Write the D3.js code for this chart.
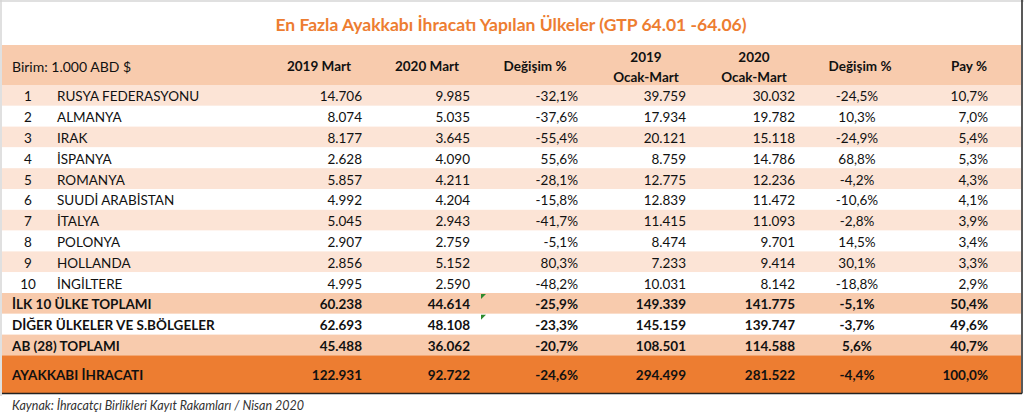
<!DOCTYPE html>
<html>
<head>
<meta charset="utf-8">
<script src="https://cdn.jsdelivr.net/npm/d3@7"></script>
<style>
  body { margin: 0; background: #fff; }
  text { font-family: Lato, "Open Sans", sans-serif; }
</style>
</head>
<body>
<div id="chart"></div>
<script>

// ---- data ----
let title = "En Fazla Ayakkabı İhracatı Yapılan Ülkeler (GTP 64.01 -64.06)";
let unitLabel = "Birim: 1.000 ABD $";
let source = "Kaynak: İhracatçı Birlikleri Kayıt Rakamları / Nisan 2020";

let ranks = [1, 2, 3, 4, 5, 6, 7, 8, 9, 10];
let countries = ["RUSYA FEDERASYONU", "ALMANYA", "IRAK", "İSPANYA", "ROMANYA",
                 "SUUDİ ARABİSTAN", "İTALYA", "POLONYA", "HOLLANDA", "İNGİLTERE"];
let mart2019 = [14706, 8074, 8177, 2628, 5857, 4992, 5045, 2907, 2856, 4995];
let mart2020 = [9985, 5035, 3645, 4090, 4211, 4204, 2943, 2759, 5152, 2590];
let changeMart = [-32.1, -37.6, -55.4, 55.6, -28.1, -15.8, -41.7, -5.1, 80.3, -48.2];
let q12019 = [39759, 17934, 20121, 8759, 12775, 12839, 11415, 8474, 7233, 10031];
let q12020 = [30032, 19782, 15118, 14786, 12236, 11472, 11093, 9701, 9414, 8142];
let changeQ1 = [-24.5, 10.3, -24.9, 68.8, -4.2, -10.6, -2.8, 14.5, 30.1, -18.8];
let share = [10.7, 7.0, 5.4, 5.3, 4.3, 4.1, 3.9, 3.4, 3.3, 2.9];

let totalLabels = ["İLK 10 ÜLKE TOPLAMI", "DİĞER ÜLKELER VE S.BÖLGELER", "AB (28) TOPLAMI", "AYAKKABI İHRACATI"];
let totalMart2019 = [60238, 62693, 45488, 122931];
let totalMart2020 = [44614, 48108, 36062, 92722];
let totalChangeMart = [-25.9, -23.3, -20.7, -24.6];
let totalQ12019 = [149339, 145159, 108501, 294499];
let totalQ12020 = [141775, 139747, 114588, 281522];
let totalChangeQ1 = [-5.1, -3.7, 5.6, -4.4];
let totalShare = [50.4, 49.6, 40.7, 100.0];

let headers = [
  {key: "m19", lines: ["2019 Mart"]},
  {key: "m20", lines: ["2020 Mart"]},
  {key: "c1",  lines: ["Değişim %"]},
  {key: "q19", lines: ["2019", "Ocak-Mart"]},
  {key: "q20", lines: ["2020", "Ocak-Mart"]},
  {key: "c2",  lines: ["Değişim %"]},
  {key: "pay", lines: ["Pay %"]}
];
// ---- end data ----

let width = 1024, height = 415;
let tableLeft = 2, tableRight = 1021;
let headTop = 45, bodyTop = 85, rowH = 20.8, lastRowH = 38;
let ink = "#111";

let tr = d3.formatLocale({decimal: ",", thousands: ".", grouping: [3], currency: ["", ""], minus: "-"});
let fmtNum = tr.format(",d");
let fmtPct = function(v) { return tr.format(".1f")(v) + "%"; };

let svg = d3.select("#chart")
            .append("svg")
            .attr("width", width)
            .attr("height", height);

// build rows
let rows = [];
countries.forEach(function(c, i) {
  rows.push({type: "country", rank: ranks[i], name: c,
             m19: mart2019[i], m20: mart2020[i], c1: changeMart[i],
             q19: q12019[i], q20: q12020[i], c2: changeQ1[i], pay: share[i]});
});
totalLabels.forEach(function(l, i) {
  rows.push({type: i == totalLabels.length - 1 ? "grand" : "total", name: l,
             m19: totalMart2019[i], m20: totalMart2020[i], c1: totalChangeMart[i],
             q19: totalQ12019[i], q20: totalQ12020[i], c2: totalChangeQ1[i], pay: totalShare[i]});
});

let regular = rows.filter(function(d) { return d.type != "grand"; });

let y = d3.scaleBand()
          .domain(d3.range(regular.length))
          .range([bodyTop, bodyTop + rowH * regular.length])
          .padding(0);

function rowTop(i) { return i < regular.length ? y(i) : bodyTop + rowH * regular.length; }
function rowHeight(i) { return i < regular.length ? y.bandwidth() : lastRowH; }

// column anchors (value x, header x, alignment)
let colX = d3.scaleOrdinal()
             .domain(["m19", "m20", "c1", "q19", "q20", "c2", "pay"])
             .range([362, 470, 578, 686, 795, 857, 988]);
let headX = d3.scaleOrdinal()
              .domain(["m19", "m20", "c1", "q19", "q20", "c2", "pay"])
              .range([319, 427, 535, 646, 754, 860, 969]);
let colAnchor = {m19: "end", m20: "end", c1: "end", q19: "end", q20: "end", c2: "middle", pay: "end"};
let colFmt = {m19: fmtNum, m20: fmtNum, c1: fmtPct, q19: fmtNum, q20: fmtNum, c2: fmtPct, pay: fmtPct};

function rowFill(d, i) {
  if (d.type == "grand") return "#ED7D31";
  if (d.type == "total") return (i - countries.length) % 2 == 0 ? "#F8CBAD" : "#FFFFFF";
  return i % 2 == 0 ? "#FCE4D6" : "#FFFFFF";
}

// frame
svg.append("line").attr("x1", 0).attr("x2", width).attr("y1", 1).attr("y2", 1)
   .attr("stroke", "#d6d6d6").attr("stroke-width", 1.5);
svg.append("line").attr("x1", 1).attr("x2", 1).attr("y1", 0).attr("y2", 396)
   .attr("stroke", "#d6d6d6").attr("stroke-width", 1.5);

// title
svg.append("text")
   .attr("x", 511)
   .attr("y", 24)
   .attr("text-anchor", "middle")
   .attr("dominant-baseline", "central")
   .attr("fill", "#ED7D31")
   .style("font-size", "17.5px")
   .style("font-weight", "bold")
   .text(title);

// header band
svg.append("rect")
   .attr("x", tableLeft).attr("y", headTop)
   .attr("width", tableRight - tableLeft).attr("height", bodyTop - headTop)
   .attr("fill", "#F8CBAD");

svg.append("text")
   .attr("x", 12).attr("y", 66)
   .attr("dominant-baseline", "central")
   .attr("fill", ink)
   .style("font-size", "14px")
   .text(unitLabel);

let head = svg.append("g").selectAll("text")
              .data(headers)
              .enter()
              .append("text")
              .attr("text-anchor", "middle")
              .attr("fill", ink)
              .style("font-size", "13.5px")
              .style("font-weight", "bold");

head.selectAll("tspan")
    .data(function(d) { return d.lines.map(function(l, j) { return {key: d.key, text: l, j: j, n: d.lines.length}; }); })
    .enter()
    .append("tspan")
    .attr("x", function(d) { return headX(d.key); })
    .attr("y", function(d) { return d.n == 1 ? 66 : (d.j == 0 ? 57 : 77); })
    .attr("dominant-baseline", "central")
    .text(function(d) { return d.text; });

// rows
let g = svg.append("g")
           .selectAll("g")
           .data(rows)
           .enter()
           .append("g");

g.append("rect")
 .attr("x", tableLeft)
 .attr("y", function(d, i) { return rowTop(i); })
 .attr("width", tableRight - tableLeft)
 .attr("height", function(d, i) { return rowHeight(i); })
 .attr("fill", rowFill);

g.filter(function(d) { return d.type == "country"; })
 .append("text")
 .attr("x", 28)
 .attr("y", function(d, i) { return rowTop(i) + rowHeight(i) / 2 + 1; })
 .attr("text-anchor", "middle")
 .attr("dominant-baseline", "central")
 .attr("fill", ink)
 .style("font-size", "13.5px")
 .text(function(d) { return d.rank; });

g.append("text")
 .attr("x", function(d) { return d.type == "country" ? 57 : 12; })
 .attr("y", function(d, i) { return rowTop(i) + rowHeight(i) / 2 + 1; })
 .attr("dominant-baseline", "central")
 .attr("fill", ink)
 .style("font-size", "13.5px")
 .style("font-weight", function(d) { return d.type == "country" ? "normal" : "bold"; })
 .text(function(d) { return d.name; });

g.each(function(d, i) {
  let row = d3.select(this);
  colX.domain().forEach(function(k) {
    row.append("text")
       .attr("x", colX(k))
       .attr("y", rowTop(i) + rowHeight(i) / 2 + 1)
       .attr("text-anchor", colAnchor[k])
       .attr("dominant-baseline", "central")
       .attr("fill", ink)
       .style("font-size", "13.5px")
       .style("font-weight", d.type == "country" ? "normal" : "bold")
       .text(colFmt[k](d[k]));
  });
});

// excel marker triangles on first two total rows
[0, 1].forEach(function(j) {
  let t = rowTop(countries.length + j) + 1;
  svg.append("path")
     .attr("d", "M481," + t + "L486," + t + "L481," + (t + 5) + "Z")
     .attr("fill", "#2e8b2e");
});

// bottom / right rule
let bottom = rowTop(rows.length - 1) + lastRowH;
svg.append("line").attr("x1", tableLeft).attr("x2", tableRight + 1).attr("y1", bottom).attr("y2", bottom)
   .attr("stroke", "#222").attr("stroke-width", 1.5);
svg.append("line").attr("x1", tableRight + 1).attr("x2", tableRight + 1).attr("y1", 0).attr("y2", bottom)
   .attr("stroke", "#222").attr("stroke-width", 1.5);

// source
svg.append("text")
   .attr("x", 12)
   .attr("y", 405)
   .attr("dominant-baseline", "central")
   .attr("fill", "#333")
   .style("font-size", "12.5px")
   .style("font-style", "italic")
   .text(source);

</script>
</body>
</html>
